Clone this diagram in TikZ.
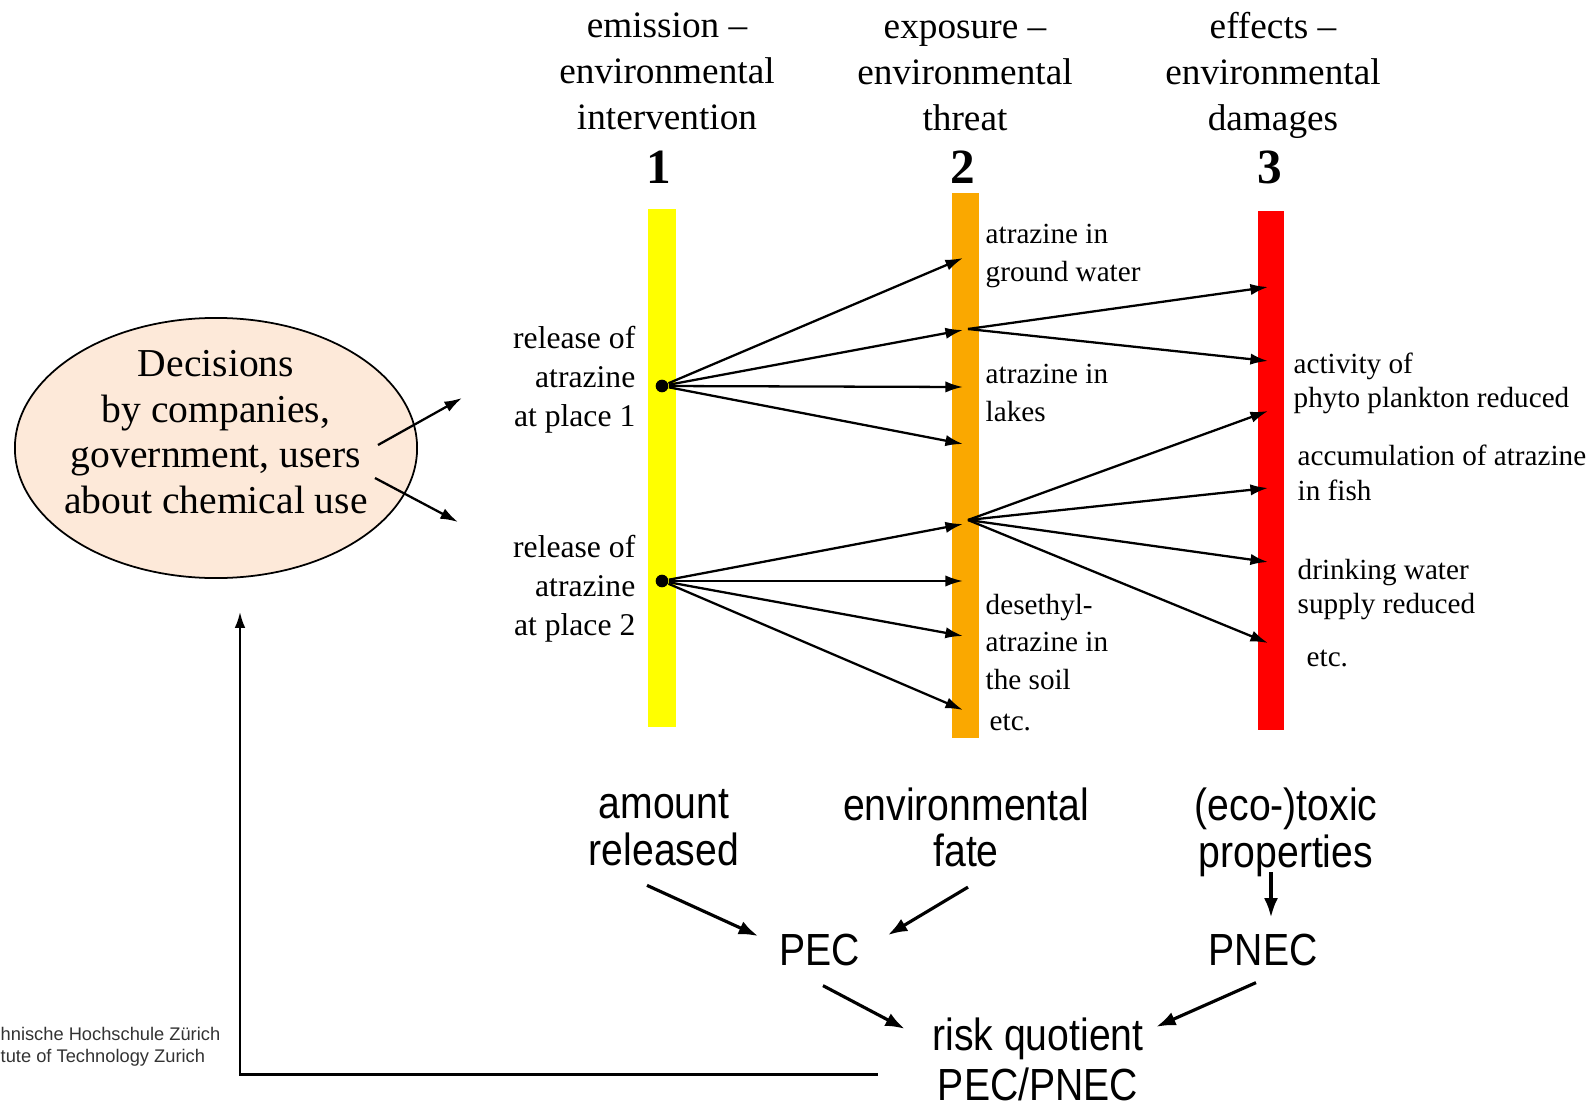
\documentclass[tikz,border=0pt]{standalone}
\usepackage{fontspec}
\setmainfont{Liberation Serif}
\newfontfamily\narrowsans[FakeStretch=0.87]{Liberation Sans}
\newfontfamily\logosans{Liberation Sans}
\usepackage{tikz}
\usetikzlibrary{shapes.geometric, arrows.meta, positioning, calc}
\definecolor{barYellow}{RGB}{255,255,0}
\definecolor{barOrange}{RGB}{250,168,0}
\definecolor{barRed}{RGB}{255,0,0}
\definecolor{ovalPeach}{RGB}{253,233,217}
\tikzset{
    bar_col/.style={
        rectangle, inner sep=0pt, draw=none, minimum width=0.27cm
    },
    decision_oval/.style={
        ellipse, draw=black, line width=0.5pt, fill=ovalPeach,
        minimum width=4.02cm, minimum height=2.6cm, inner sep=0pt
    },
    oval_txt/.style={
        align=center, inner sep=0pt, font=\fontsize{11.25}{13}\selectfont
    },
    head_txt/.style={
        align=center, inner sep=0pt, font=\fontsize{10.6}{13.1}\selectfont
    },
    num_txt/.style={
        inner sep=0pt, font=\fontsize{14}{16}\selectfont\bfseries
    },
    src_lbl/.style={
        anchor=east, align=right, inner sep=0pt, font=\fontsize{9}{11.1}\selectfont
    },
    mid_lbl/.style={
        anchor=west, align=left, inner sep=0pt, font=\fontsize{8.3}{10.8}\selectfont
    },
    end_lbl/.style={
        anchor=west, align=left, inner sep=0pt, font=\fontsize{8.3}{9.8}\selectfont
    },
    sans_txt/.style={
        align=center, inner sep=0pt, font=\narrowsans\fontsize{12.8}{13.3}\selectfont
    },
    src_dot/.style={
        circle, fill=black, inner sep=0pt, minimum size=3.6pt
    },
    fan_arrow/.style={
        -{Latex[length=5pt, width=3.2pt]}, line width=0.65pt, draw=black
    },
    calc_arrow/.style={
        -{Latex[length=5.5pt, width=4pt]}, line width=0.9pt, draw=black
    },
    back_arrow/.style={
        -{Latex[length=4.5pt, width=3pt]}, line width=0.6pt, draw=black
    },
    logo_txt/.style={
        anchor=west, align=left, inner sep=0pt, text=black!80,
        font=\logosans\fontsize{5.2}{6.3}\selectfont
    }
}

\begin{document}
\begin{tikzpicture}[x=0.01cm, y=-0.01cm]
    \useasboundingbox (0,0) rectangle (1596,1106);

    \node[decision_oval] (dec) at (216,448) {};
    \node[oval_txt] (dectext) at (216,432) {Decisions\\by companies,\\government, users\\about chemical use};
    \coordinate (out1) at (462,398);
    \coordinate (out2) at (458,522);
    \draw[fan_arrow] ($(dec.center)+(162,-3)$) -- (out1);
    \draw[fan_arrow] ($(dec.center)+(159,30)$) -- (out2);

    \node[head_txt] (head1) at (667,71.5) {emission –\\environmental\\intervention};
    \node[head_txt] (head2) at (965,75.5) {exposure –\\environmental\\threat};
    \node[head_txt] (head3) at (1273,75.5) {effects –\\environmental\\damages};
    \node[num_txt] (num1) at (659,167) {1};
    \node[num_txt] (num2) at (963,167) {2};
    \node[num_txt] (num3) at (1270,167) {3};

    \node[bar_col, fill=barYellow, minimum height=5.18cm] (bar1) at (662,468) {};
    \node[bar_col, fill=barOrange, minimum height=5.45cm] (bar2) at (965.5,465.5) {};
    \node[bar_col, fill=barRed, minimum width=0.26cm, minimum height=5.19cm] (bar3) at (1271,470.5) {};

    \node[src_dot] (p1) at (662,386) {};
    \node[src_dot] (p2) at (662,581) {};
    \coordinate (hub1) at (968,329);
    \coordinate (hub2) at (968,520);

    \foreach \yy [count=\i] in {258,330,387,444} {
        \coordinate (ea\i) at (963,\yy);
        \draw[fan_arrow] (p1) -- (ea\i);
    }
    \foreach \yy [count=\i] in {524,581,636,710} {
        \coordinate (eb\i) at (963,\yy);
        \draw[fan_arrow] (p2) -- (eb\i);
    }
    \foreach \yy [count=\i] in {287,361} {
        \coordinate (fa\i) at (1268,\yy);
        \draw[fan_arrow] (hub1) -- (fa\i);
    }
    \foreach \yy [count=\i] in {411,488,562,643} {
        \coordinate (fb\i) at (1268,\yy);
        \draw[fan_arrow] (hub2) -- (fb\i);
    }

    \node[src_lbl] (rel1) at (636,379.5) {release of\\atrazine\\at place 1};
    \node[src_lbl] (rel2) at (636,588.5) {release of\\atrazine\\at place 2};

    \node[mid_lbl] (ground) at (985,256) {atrazine in\\ground water};
    \node[mid_lbl] (lakes) at (985,392.5) {atrazine in\\lakes};
    \node[mid_lbl] (soil) at (985,642) {desethyl-\\atrazine in\\the soil};
    \node[mid_lbl, anchor=base west] (etcmid) at (989,730) {etc.};

    \node[end_lbl] (plankton) at (1293,383.5) {activity of\\phyto plankton reduced};
    \node[end_lbl] (fish) at (1297,473) {accumulation of atrazine\\in fish};
    \node[end_lbl] (drink) at (1297,589.5) {drinking water\\supply reduced};
    \node[end_lbl, anchor=base west] (etcend) at (1306,666) {etc.};

    \node[sans_txt] (amount) at (664,827.5) {amount\\released};
    \node[sans_txt] (fate) at (966,827.5) {environmental\\fate};
    \node[sans_txt] (toxic) at (1286,832) {(eco-)toxic\\properties};
    \node[sans_txt] (pec) at (820,950) {PEC};
    \node[sans_txt] (pnec) at (1263,950) {PNEC};
    \node[sans_txt, font=\narrowsans\fontsize{12.8}{14.2}\selectfont] (risk) at (1038,1059) {risk quotient\\PEC/PNEC};

    \draw[calc_arrow] ($(amount.south)+(-17,19)$) -- ($(pec.west)+(-21,-14)$);
    \draw[calc_arrow] ($(fate.south)+(2,19)$) -- ($(pec.east)+(27,-15)$);
    \draw[calc_arrow] ($(toxic.south)+(-15,-5)$) -- ($(pnec.north)+(8,-16)$);
    \draw[calc_arrow] ($(pec.south)+(3,19)$) -- ($(risk.north west)+(-27,12)$);
    \draw[calc_arrow] ($(pnec.south)+(-7,16)$) -- ($(risk.north east)+(12,10)$);
    \draw[back_arrow] ($(risk.west)+(-54,15.5)$) -| ($(dec.south)+(24,33)$);

    \node[logo_txt] (eth) at (0,1047) {hnische Hochschule Zürich\\tute of Technology Zurich};

\end{tikzpicture}
\end{document}
